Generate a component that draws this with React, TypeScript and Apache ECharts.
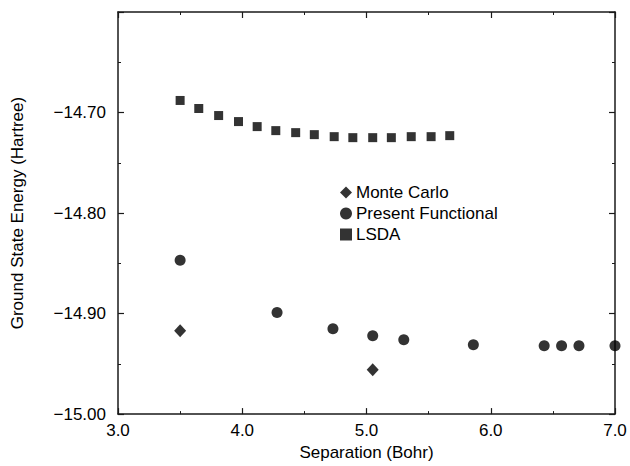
import React, { useEffect, useRef } from "react";
import * as echarts from "echarts";

const mcX = [3.5, 5.05];
const mcY = [-14.917, -14.956];

const funcX = [3.5, 4.28, 4.73, 5.05, 5.3, 5.86, 6.43, 6.57, 6.71, 7.0];
const funcY = [-14.847, -14.899, -14.915, -14.922, -14.926, -14.931, -14.932, -14.932, -14.932, -14.932];

const lsdaX = [3.5, 3.65, 3.81, 3.97, 4.12, 4.27, 4.43, 4.58, 4.74, 4.89, 5.05, 5.2, 5.36, 5.52, 5.67];
const lsdaY = [-14.688, -14.696, -14.703, -14.709, -14.714, -14.718, -14.72, -14.722, -14.724, -14.725, -14.725, -14.725, -14.724, -14.724, -14.723];

const seriesNames = ["Monte Carlo", "Present Functional", "LSDA"];
const xAxisName = "Separation (Bohr)";
const yAxisName = "Ground State Energy (Hartree)";

const FONT = "'Liberation Sans', Arial, Helvetica, sans-serif";
const INK = "#000";
const LINE = "#1a1a1a";

function pairs(xs: number[], ys: number[]) {
  return xs.map((x, i) => [x, ys[i]]);
}

export default function App() {
  const ref = useRef<HTMLDivElement>(null);
  useEffect(() => {
    if (!ref.current) return;
    const chart = echarts.init(ref.current, undefined, { renderer: "svg" });
    const tickCommon = {
      axisLine: { show: true, lineStyle: { color: LINE, width: 1.5 } },
      axisTick: { show: true, inside: true, length: 6, lineStyle: { color: LINE, width: 1.2 } },
      minorTick: { show: true, splitNumber: 2, length: 3, lineStyle: { color: LINE, width: 1 } },
      splitLine: { show: false },
      minorSplitLine: { show: false },
    };
    chart.setOption({
      animation: false,
      backgroundColor: "#fff",
      grid: { left: 118, right: 15, top: 12, bottom: 46, containLabel: false },
      legend: {
        orient: "vertical",
        left: 335,
        top: 179,
        itemGap: 4,
        itemWidth: 12,
        itemHeight: 12,
        data: seriesNames,
        textStyle: { fontFamily: FONT, fontSize: 17, color: INK, padding: [0, 0, 0, -1] },
      },
      xAxis: [
        {
          type: "value",
          position: "bottom",
          min: 3,
          max: 7,
          interval: 1,
          name: xAxisName,
          nameLocation: "middle",
          nameGap: 29,
          nameTextStyle: { fontFamily: FONT, fontSize: 17, color: INK },
          axisLabel: {
            fontFamily: FONT,
            fontSize: 17,
            color: INK,
            margin: 8,
            formatter: (v: number) => v.toFixed(1),
          },
          ...tickCommon,
        },
        {
          type: "value",
          position: "top",
          min: 3,
          max: 7,
          interval: 1,
          axisLabel: { show: false },
          ...tickCommon,
        },
      ],
      yAxis: [
        {
          type: "value",
          position: "left",
          min: -15,
          max: -14.6,
          interval: 0.1,
          name: yAxisName,
          nameLocation: "middle",
          nameGap: 92,
          nameRotate: 90,
          nameTextStyle: { fontFamily: FONT, fontSize: 17, color: INK },
          axisLabel: {
            fontFamily: FONT,
            fontSize: 17,
            color: INK,
            margin: 12,
            formatter: (v: number) =>
              Math.abs(v + 14.6) < 1e-6 ? "" : "\u2212" + Math.abs(v).toFixed(2),
          },
          ...tickCommon,
        },
        {
          type: "value",
          position: "right",
          min: -15,
          max: -14.6,
          interval: 0.1,
          axisLabel: { show: false },
          ...tickCommon,
        },
      ],
      series: [
        {
          name: seriesNames[0],
          type: "scatter",
          symbol: "diamond",
          symbolSize: [12, 13],
          clip: false,
          itemStyle: { color: INK },
          data: pairs(mcX, mcY),
        },
        {
          name: seriesNames[1],
          type: "scatter",
          symbol: "circle",
          symbolSize: 11,
          clip: false,
          itemStyle: { color: INK },
          data: pairs(funcX, funcY),
        },
        {
          name: seriesNames[2],
          type: "scatter",
          symbol: "rect",
          symbolSize: 9,
          clip: false,
          itemStyle: { color: INK },
          data: pairs(lsdaX, lsdaY),
        },
      ],
    });
    return () => chart.dispose();
  }, []);
  return (
    <div
      ref={ref}
      style={{ position: "fixed", left: 0, top: 0, width: 630, height: 466, background: "#fff" }}
    />
  );
}
